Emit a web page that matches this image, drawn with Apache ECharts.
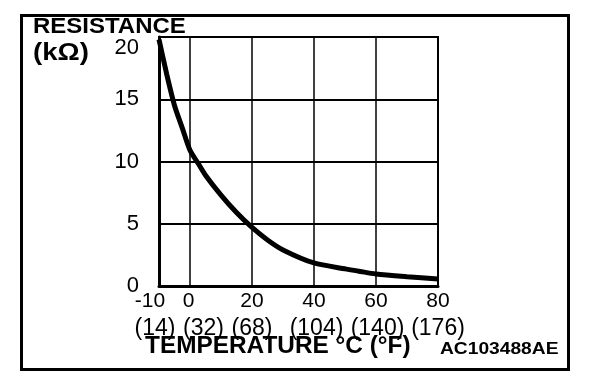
<!DOCTYPE html>
<html>
<head>
<meta charset="utf-8">
<script src="https://cdn.jsdelivr.net/npm/echarts@6/dist/echarts.min.js"></script>
<style>
html,body{margin:0;padding:0;background:#fff;}
#chart{width:608px;height:384px;}
</style>
</head>
<body>
<div id="chart"></div>
<script>
// Data
const temps = [-10, -7.5, -5, -2.5, 0, 2.5, 5, 10, 15, 20, 25, 30, 40, 50, 60, 70, 80];
const resistance = [19.8, 17.0, 14.5, 12.7, 10.9, 9.9, 8.9, 7.3, 5.9, 4.7, 3.7, 2.9, 1.85, 1.38, 0.97, 0.74, 0.56];
const xTickValues = [-10, 0, 20, 40, 60, 80];
const xTickLabelsC = ['-10', '0', '20', '40', '60', '80'];
const xTickLabelsF = ['(14)', '(32)', '(68)', '(104)', '(140)', '(176)'];
const yTickValues = [0, 5, 10, 15, 20];
const yTickLabels = ['0', '5', '10', '15', '20'];
const gridTemps = [0, 20, 40, 60];
const yTitle = 'RESISTANCE';
const yUnit = '(kΩ)';
const xTitle = 'TEMPERATURE °C (°F)';
const figId = 'AC103488AE';

const FONT = "'Liberation Sans', Arial, sans-serif";
const chart = echarts.init(document.getElementById('chart'), null, {renderer: 'canvas'});

function richFor(prefix, pads, size) {
  const r = {};
  pads.forEach((p, i) => {
    r[prefix + i] = {fontSize: size, fontFamily: FONT, color: '#000', padding: p};
  });
  return r;
}

const option = {
  backgroundColor: '#fff',
  animation: false,
  grid: {
    left: 159, top: 37, right: 170, bottom: 98,
    show: true, borderColor: '#000', borderWidth: 2, backgroundColor: 'transparent'
  },
  xAxis: [
    {
      type: 'value', min: -10, max: 80, interval: 10, position: 'bottom',
      axisLine: {show: true, onZero: false, lineStyle: {color: '#000', width: 3}},
      axisTick: {show: false},
      splitLine: {show: false},
      axisLabel: {
        margin: 5,
        formatter: function (v) {
          const i = xTickValues.indexOf(v);
          return i < 0 ? '' : '{c' + i + '|' + xTickLabelsC[i] + '}';
        },
        rich: richFor('c', [[0, 18, 0, 0], [0, 3, 0, 0], [0, 0, 0, 0], [0, 0, 0, 0], [0, 0, 0, 0], [0, 0, 0, 0]], 21)
      }
    },
    {
      type: 'value', min: -10, max: 80, interval: 10, position: 'bottom', offset: 26,
      axisLine: {show: false},
      axisTick: {show: false},
      splitLine: {show: false},
      axisLabel: {
        margin: 5,
        formatter: function (v) {
          const i = xTickValues.indexOf(v);
          return i < 0 ? '' : '{f' + i + '|' + xTickLabelsF[i] + '}';
        },
        rich: richFor('f', [[0, 8, 0, 0], [0, 0, 0, 27], [0, 0, 0, 0], [0, 0, 0, 5], [0, 0, 0, 3], [0, 0, 0, 0]], 23)
      }
    }
  ],
  yAxis: {
    type: 'value', min: 0, max: 20, interval: 5,
    axisLine: {show: true, onZero: false, lineStyle: {color: '#000', width: 3}},
    axisTick: {show: false},
    splitLine: {show: true, lineStyle: {color: '#000', width: 2}},
    axisLabel: {
      margin: 20,
      formatter: function (v) {
        const i = yTickValues.indexOf(v);
        if (i < 0) return '';
        return (v === 20 ? '{top|' : '{n|') + yTickLabels[i] + '}';
      },
      rich: {
        n: {fontSize: 22, fontFamily: FONT, color: '#000'},
        top: {fontSize: 22, fontFamily: FONT, color: '#000', padding: [21, 0, 0, 0]}
      }
    }
  },
  series: [{
    type: 'line',
    data: temps.map((t, i) => [t, resistance[i]]),
    showSymbol: false,
    symbol: 'none',
    smooth: 0.25,
    lineStyle: {color: '#000', width: 5},
    z: 5,
    markLine: {
      silent: true,
      symbol: ['none', 'none'],
      label: {show: false},
      lineStyle: {color: '#000', width: 1.5, type: 'solid'},
      emphasis: {disabled: true},
      data: gridTemps.map(t => ({xAxis: t}))
    }
  }],
  graphic: [
    {
      type: 'rect', silent: true,
      shape: {x: 21.5, y: 15.5, width: 547, height: 354},
      style: {fill: 'none', stroke: '#000', lineWidth: 3}
    },
    {
      type: 'text', x: 33, y: 27, scaleX: 1.09,
      style: {text: yTitle, font: 'bold 22px ' + FONT, fill: '#000', textAlign: 'left', textVerticalAlign: 'middle'}
    },
    {
      type: 'text', x: 33, y: 54, scaleX: 1.2,
      style: {text: yUnit, font: 'bold 23px ' + FONT, fill: '#000', textAlign: 'left', textVerticalAlign: 'middle'}
    },
    {
      type: 'text', x: 145, y: 347, scaleX: 1.06,
      style: {text: xTitle, font: 'bold 23px ' + FONT, fill: '#000', textAlign: 'left', textVerticalAlign: 'middle'}
    },
    {
      type: 'text', x: 440, y: 350, scaleX: 1.2,
      style: {text: figId, font: 'bold 16px ' + FONT, fill: '#000', textAlign: 'left', textVerticalAlign: 'middle'}
    }
  ]
};
chart.setOption(option);
</script>
</body>
</html>
